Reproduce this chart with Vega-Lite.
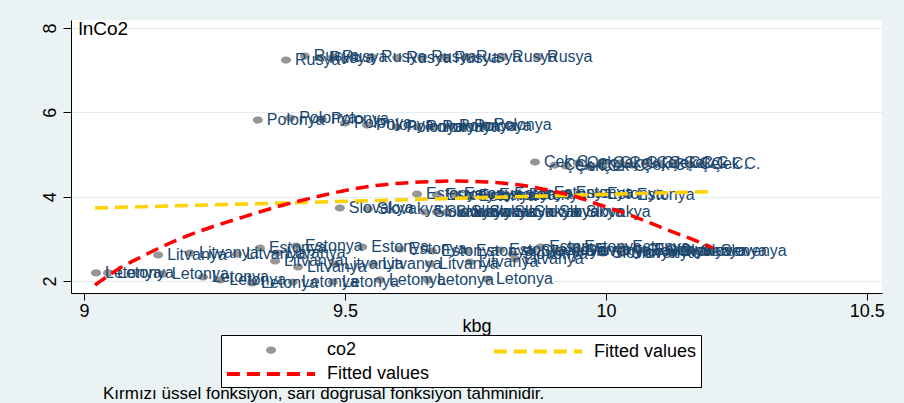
{
  "$schema": "https://vega.github.io/schema/vega-lite/v6.json",
  "width": 811,
  "height": 273,
  "autosize": "none",
  "padding": {"left": 71, "top": 20, "right": 22, "bottom": 110},
  "background": "#eaf2f3",
  "config": {
    "view": {"fill": "white", "stroke": null},
    "font": "Liberation Sans",
    "legend": {
      "orient": "none", "legendX": 150, "legendY": 315, "columns": 2, "direction": "horizontal",
      "strokeColor": "black", "fillColor": "white", "padding": 4,
      "labelFont": "Liberation Sans", "labelFontSize": 18, "labelColor": "black",
      "symbolSize": 324, "symbolDash": [13, 7], "symbolStrokeWidth": 4, "symbolOffset": 35,
      "labelOffset": 45, "columnPadding": 55, "rowPadding": 1
    }
  },
  "title": {
    "text": "Kırmızı üssel fonksiyon, sarı doğrusal fonksiyon tahminidir.",
    "orient": "bottom", "anchor": "start", "frame": "group",
    "dx": 32, "offset": -2, "fontSize": 17, "fontWeight": "normal", "color": "black", "font": "Liberation Sans"
  },
  "datasets": {
    "pts": [
      {"c": "Rusya", "kbg": 9.387, "lnco2": 7.240},
      {"c": "Rusya", "kbg": 9.423, "lnco2": 7.335},
      {"c": "Rusya", "kbg": 9.452, "lnco2": 7.300},
      {"c": "Rusya", "kbg": 9.477, "lnco2": 7.311},
      {"c": "Rusya", "kbg": 9.552, "lnco2": 7.311},
      {"c": "Rusya", "kbg": 9.600, "lnco2": 7.300},
      {"c": "Rusya", "kbg": 9.648, "lnco2": 7.311},
      {"c": "Rusya", "kbg": 9.692, "lnco2": 7.300},
      {"c": "Rusya", "kbg": 9.734, "lnco2": 7.311},
      {"c": "Rusya", "kbg": 9.803, "lnco2": 7.311},
      {"c": "Rusya", "kbg": 9.870, "lnco2": 7.311},
      {"c": "Polonya", "kbg": 9.333, "lnco2": 5.817},
      {"c": "Polonya", "kbg": 9.395, "lnco2": 5.865},
      {"c": "Polonya", "kbg": 9.456, "lnco2": 5.841},
      {"c": "Polonya", "kbg": 9.500, "lnco2": 5.746},
      {"c": "Polonya", "kbg": 9.542, "lnco2": 5.699},
      {"c": "Polonya", "kbg": 9.600, "lnco2": 5.651},
      {"c": "Polonya", "kbg": 9.638, "lnco2": 5.651},
      {"c": "Polonya", "kbg": 9.669, "lnco2": 5.651},
      {"c": "Polonya", "kbg": 9.701, "lnco2": 5.675},
      {"c": "Polonya", "kbg": 9.730, "lnco2": 5.682},
      {"c": "Polonya", "kbg": 9.768, "lnco2": 5.699},
      {"c": "Çek C.", "kbg": 9.864, "lnco2": 4.821},
      {"c": "Çek C.", "kbg": 9.902, "lnco2": 4.750},
      {"c": "Çek C.", "kbg": 9.923, "lnco2": 4.727},
      {"c": "Çek C.", "kbg": 9.946, "lnco2": 4.798},
      {"c": "Çek C.", "kbg": 9.973, "lnco2": 4.727},
      {"c": "Çek C.", "kbg": 9.996, "lnco2": 4.798},
      {"c": "Çek C.", "kbg": 10.027, "lnco2": 4.798},
      {"c": "Çek C.", "kbg": 10.050, "lnco2": 4.750},
      {"c": "Çek C.", "kbg": 10.079, "lnco2": 4.798},
      {"c": "Çek C.", "kbg": 10.103, "lnco2": 4.798},
      {"c": "Çek C.", "kbg": 10.132, "lnco2": 4.798},
      {"c": "Çek C.", "kbg": 10.161, "lnco2": 4.774},
      {"c": "Çek C.", "kbg": 10.185, "lnco2": 4.774},
      {"c": "Estonya", "kbg": 9.638, "lnco2": 4.063},
      {"c": "Estonya", "kbg": 9.676, "lnco2": 4.040},
      {"c": "Estonya", "kbg": 9.711, "lnco2": 4.063},
      {"c": "Estonya", "kbg": 9.739, "lnco2": 4.015},
      {"c": "Estonya", "kbg": 9.778, "lnco2": 4.040},
      {"c": "Estonya", "kbg": 9.807, "lnco2": 4.063},
      {"c": "Estonya", "kbg": 9.835, "lnco2": 4.040},
      {"c": "Estonya", "kbg": 9.883, "lnco2": 4.087},
      {"c": "Estonya", "kbg": 9.925, "lnco2": 4.087},
      {"c": "Estonya", "kbg": 9.985, "lnco2": 4.063},
      {"c": "Estonya", "kbg": 10.042, "lnco2": 4.040},
      {"c": "Slovakya", "kbg": 9.490, "lnco2": 3.731},
      {"c": "Slovakya", "kbg": 9.544, "lnco2": 3.707},
      {"c": "Slovakya", "kbg": 9.653, "lnco2": 3.636},
      {"c": "Slovakya", "kbg": 9.676, "lnco2": 3.636},
      {"c": "Slovakya", "kbg": 9.695, "lnco2": 3.625},
      {"c": "Slovakya", "kbg": 9.724, "lnco2": 3.636},
      {"c": "Slovakya", "kbg": 9.759, "lnco2": 3.625},
      {"c": "Slovakya", "kbg": 9.807, "lnco2": 3.636},
      {"c": "Slovakya", "kbg": 9.845, "lnco2": 3.625},
      {"c": "Slovakya", "kbg": 9.893, "lnco2": 3.636},
      {"c": "Slovakya", "kbg": 9.944, "lnco2": 3.625},
      {"c": "Estonya", "kbg": 9.337, "lnco2": 2.782},
      {"c": "Estonya", "kbg": 9.406, "lnco2": 2.830},
      {"c": "Estonya", "kbg": 9.533, "lnco2": 2.806},
      {"c": "Estonya", "kbg": 9.605, "lnco2": 2.759},
      {"c": "Estonya", "kbg": 9.667, "lnco2": 2.711},
      {"c": "Estonya", "kbg": 9.734, "lnco2": 2.711},
      {"c": "Estonya", "kbg": 9.797, "lnco2": 2.735},
      {"c": "Estonya", "kbg": 9.874, "lnco2": 2.806},
      {"c": "Estonya", "kbg": 9.941, "lnco2": 2.806},
      {"c": "Estonya", "kbg": 10.033, "lnco2": 2.806},
      {"c": "Estonya", "kbg": 10.075, "lnco2": 2.735},
      {"c": "Slovenya", "kbg": 9.822, "lnco2": 2.640},
      {"c": "Slovenya", "kbg": 9.858, "lnco2": 2.711},
      {"c": "Slovenya", "kbg": 9.906, "lnco2": 2.735},
      {"c": "Slovenya", "kbg": 9.944, "lnco2": 2.711},
      {"c": "Slovenya", "kbg": 9.994, "lnco2": 2.664},
      {"c": "Slovenya", "kbg": 10.031, "lnco2": 2.664},
      {"c": "Slovenya", "kbg": 10.061, "lnco2": 2.711},
      {"c": "Slovenya", "kbg": 10.098, "lnco2": 2.711},
      {"c": "Slovenya", "kbg": 10.126, "lnco2": 2.711},
      {"c": "Slovenya", "kbg": 10.165, "lnco2": 2.711},
      {"c": "Slovenya", "kbg": 10.203, "lnco2": 2.711},
      {"c": "Litvanya", "kbg": 9.142, "lnco2": 2.616},
      {"c": "Litvanya", "kbg": 9.203, "lnco2": 2.664},
      {"c": "Litvanya", "kbg": 9.293, "lnco2": 2.640},
      {"c": "Litvanya", "kbg": 9.370, "lnco2": 2.664},
      {"c": "Litvanya", "kbg": 9.366, "lnco2": 2.474},
      {"c": "Litvanya", "kbg": 9.410, "lnco2": 2.332},
      {"c": "Litvanya", "kbg": 9.481, "lnco2": 2.403},
      {"c": "Litvanya", "kbg": 9.554, "lnco2": 2.403},
      {"c": "Litvanya", "kbg": 9.663, "lnco2": 2.403},
      {"c": "Litvanya", "kbg": 9.739, "lnco2": 2.450},
      {"c": "Litvanya", "kbg": 9.826, "lnco2": 2.522},
      {"c": "Letonya", "kbg": 9.023, "lnco2": 2.190},
      {"c": "Letonya", "kbg": 9.046, "lnco2": 2.190},
      {"c": "Letonya", "kbg": 9.151, "lnco2": 2.166},
      {"c": "Letonya", "kbg": 9.228, "lnco2": 2.095},
      {"c": "Letonya", "kbg": 9.261, "lnco2": 2.024},
      {"c": "Letonya", "kbg": 9.322, "lnco2": 1.953},
      {"c": "Letonya", "kbg": 9.400, "lnco2": 1.976},
      {"c": "Letonya", "kbg": 9.477, "lnco2": 1.976},
      {"c": "Letonya", "kbg": 9.567, "lnco2": 2.024},
      {"c": "Letonya", "kbg": 9.659, "lnco2": 2.024},
      {"c": "Letonya", "kbg": 9.772, "lnco2": 2.047}
    ],
    "lin": [
      {"kbg": 9.021, "fit": 3.731},
      {"kbg": 10.205, "fit": 4.122}
    ],
    "exp": [
      {"kbg": 9.021, "fit": 1.905},
      {"kbg": 9.069, "fit": 2.308},
      {"kbg": 9.113, "fit": 2.593},
      {"kbg": 9.165, "fit": 2.901},
      {"kbg": 9.228, "fit": 3.209},
      {"kbg": 9.299, "fit": 3.494},
      {"kbg": 9.375, "fit": 3.778},
      {"kbg": 9.452, "fit": 4.015},
      {"kbg": 9.515, "fit": 4.181},
      {"kbg": 9.586, "fit": 4.300},
      {"kbg": 9.644, "fit": 4.347},
      {"kbg": 9.711, "fit": 4.371},
      {"kbg": 9.772, "fit": 4.347},
      {"kbg": 9.835, "fit": 4.276},
      {"kbg": 9.898, "fit": 4.134},
      {"kbg": 9.950, "fit": 3.968},
      {"kbg": 9.989, "fit": 3.802},
      {"kbg": 10.036, "fit": 3.612},
      {"kbg": 10.071, "fit": 3.446},
      {"kbg": 10.123, "fit": 3.186},
      {"kbg": 10.174, "fit": 2.948},
      {"kbg": 10.205, "fit": 2.782}
    ]
  },
  "encoding": {
    "x": {
      "field": "kbg", "type": "quantitative",
      "scale": {"domain": [8.975, 10.529], "nice": false, "zero": false},
      "axis": {
        "values": [9, 9.5, 10, 10.5], "format": "~g", "grid": false,
        "domainColor": "black", "tickColor": "black", "tickSize": 7,
        "labelFontSize": 18, "labelColor": "black", "labelPadding": 2, "labelFlush": false,
        "title": "kbg", "titleFontSize": 18, "titleFontWeight": "normal", "titleColor": "black", "titlePadding": -3
      }
    }
  },
  "layer": [
    {
      "data": {"name": "pts"},
      "mark": {"type": "point", "filled": true, "opacity": 1, "size": 324},
      "encoding": {
        "y": {
          "field": "lnco2", "type": "quantitative",
          "scale": {"domain": [1.715, 8.19], "nice": false, "zero": false},
          "axis": {
            "values": [2, 4, 6, 8], "grid": true, "gridColor": "#e3ecef", "gridWidth": 1,
            "domainColor": "black", "tickColor": "black", "tickSize": 8,
            "labelAngle": 270, "labelAlign": "center", "labelBaseline": "bottom",
            "labelFontSize": 18, "labelColor": "black", "labelPadding": 4,
            "title": "lnCo2", "titleAngle": 0, "titleX": 7, "titleY": 8,
            "titleAlign": "left", "titleBaseline": "middle",
            "titleFontSize": 19, "titleFontWeight": "normal", "titleColor": "black"
          }
        },
        "color": {
          "datum": "1co2", "type": "nominal",
          "scale": {"domain": ["1co2", "2lin", "3exp"], "range": ["#969696", "#ffd200", "#ff0000"]},
          "legend": {"title": null, "labelExpr": "datum.value == '1co2' ? 'co2' : 'Fitted values'"}
        },
        "stroke": {
          "datum": "1co2", "type": "nominal",
          "scale": {"domain": ["1co2", "2lin", "3exp"], "range": ["transparent", "#ffd200", "#ff0000"]},
          "legend": {"title": null, "labelExpr": "datum.value == '1co2' ? 'co2' : 'Fitted values'"}
        },
        "shape": {
          "datum": "1co2", "type": "nominal",
          "scale": {"domain": ["1co2", "2lin", "3exp"],
                    "range": ["M-0.56,0A0.56,0.4,0,1,1,0.56,0A0.56,0.4,0,1,1,-0.56,0Z", "M-4.9,0L4.9,0", "M-4.9,0L4.9,0"]},
          "legend": {"title": null, "labelExpr": "datum.value == '1co2' ? 'co2' : 'Fitted values'"}
        }
      }
    },
    {
      "data": {"name": "pts"},
      "mark": {"type": "text", "align": "left", "baseline": "middle", "dx": 9,
               "fontSize": 16, "font": "Liberation Sans", "color": "#1a476f"},
      "encoding": {
        "y": {"field": "lnco2", "type": "quantitative"},
        "text": {"field": "c"}
      }
    },
    {
      "data": {"name": "lin"},
      "mark": {"type": "line", "strokeWidth": 3.5, "strokeDash": [13, 7], "color": "#ffd200"},
      "encoding": {
        "y": {"field": "fit", "type": "quantitative"}
      }
    },
    {
      "data": {"name": "exp"},
      "mark": {"type": "line", "strokeWidth": 3.5, "strokeDash": [13, 7], "interpolate": "monotone", "color": "#ff0000"},
      "encoding": {
        "y": {"field": "fit", "type": "quantitative"}
      }
    }
  ]
}
